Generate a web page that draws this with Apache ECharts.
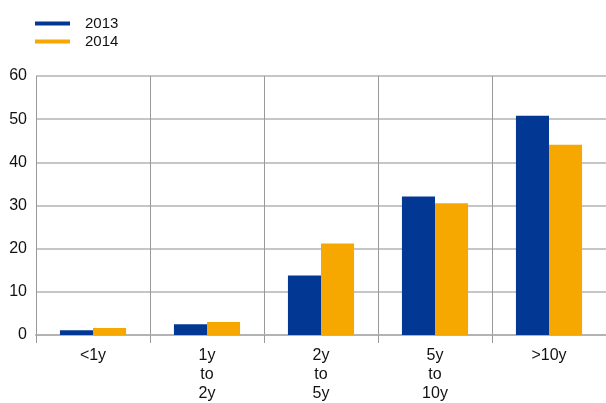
<!DOCTYPE html>
<html><head><meta charset="utf-8">
<script src="https://cdn.jsdelivr.net/npm/echarts@6/dist/echarts.min.js"></script>
<style>html,body{margin:0;padding:0;background:#fff}#c{width:606px;height:403px}</style>
</head><body><div id="c"></div>
<script>
const categories = ['<1y', '1y\nto\n2y', '2y\nto\n5y', '5y\nto\n10y', '>10y'];
const series2013 = [1.1, 2.5, 13.8, 32.1, 50.8];
const series2014 = [1.6, 3.0, 21.2, 30.5, 44.1];
const yTicks = [0, 10, 20, 30, 40, 50, 60];
const font = 'Liberation Sans, Arial, sans-serif';
const chart = echarts.init(document.getElementById('c'));
chart.setOption({
  animation: false,
  textStyle: {fontFamily: font},
  legend: {
    orient: 'vertical', left: 30, top: 11, itemGap: 3,
    icon: 'rect', itemWidth: 35, itemHeight: 4,
    textStyle: {fontFamily: font, fontSize: 15, color: '#111', padding: [0,0,0,10]},
    data: ['2013', '2014']
  },
  grid: {left: 36, right: -3, top: 76, bottom: 67, containLabel: false},
  xAxis: {
    type: 'category', data: categories,
    axisLine: {show: true, lineStyle: {color: '#b3b3b3', width: 2}},
    axisTick: {show: true, length: 8, lineStyle: {color: '#999', width: 1}},
    splitLine: {show: true, lineStyle: {color: '#999', width: 1}},
    axisLabel: {fontFamily: font, fontSize: 16, color: '#111', lineHeight: 19, margin: 11}
  },
  yAxis: {
    type: 'value', min: 0, max: 60, interval: 10,
    axisLine: {show: false}, axisTick: {show: false},
    splitLine: {lineStyle: {color: '#b3b3b3', width: 1.5}},
    axisLabel: {fontFamily: font, fontSize: 16, color: '#111', margin: 9,
      formatter: v => yTicks.includes(v) ? String(v) : ''}
  },
  series: [
    {name: '2013', type: 'bar', data: series2013, itemStyle: {color: '#023894'}, barGap: '0%', barCategoryGap: '42%'},
    {name: '2014', type: 'bar', data: series2014, itemStyle: {color: '#f6a800'}, barGap: '0%', barCategoryGap: '42%'}
  ]
});
</script></body></html>
